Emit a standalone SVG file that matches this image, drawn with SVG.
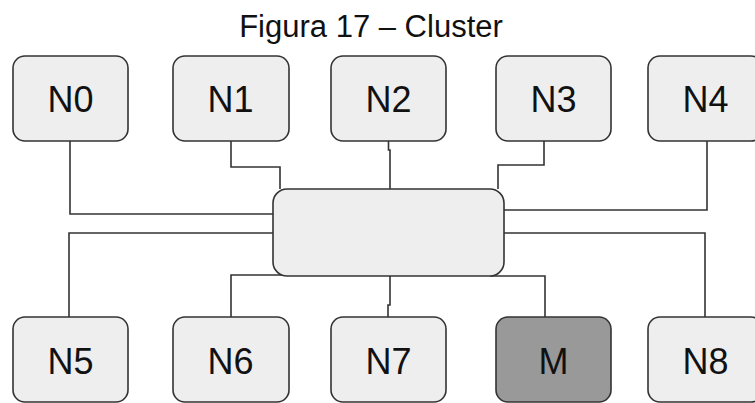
<svg xmlns="http://www.w3.org/2000/svg" width="755" height="403" viewBox="0 0 755 403">
  <style>
    .node rect { fill: #eeeeee; stroke: #333333; stroke-width: 1.6; }
    .node.master rect { fill: #999999; }
    .node text { font-family: "Liberation Sans", Arial, sans-serif; font-size: 36px; fill: #111111; text-anchor: middle; }
    .hub rect { fill: #eeeeee; stroke: #333333; stroke-width: 1.6; }
    .links path { fill: none; stroke: #333333; stroke-width: 1.6; }
    .title { font-family: "Liberation Sans", Arial, sans-serif; font-size: 31px; fill: #111111; text-anchor: middle; }
  </style>
  <rect width="755" height="403" fill="#ffffff"/>

  <text class="title" x="371" y="37">Figura 17 – Cluster</text>

  <!-- wiring between the nodes and the central switch -->
  <g id="connectors" class="links">
    <path d="M70,141 V214 H273"/>
    <path d="M231,141 V167 H280 V189"/>
    <path d="M388.5,141 V150 H390 V189"/>
    <path d="M544,141 V165 H498 V189"/>
    <path d="M707,141 V210 H504"/>
    <path d="M273,233 H69 V317"/>
    <path d="M285,275 H231 V317"/>
    <path d="M390,276 V305 H388 V317"/>
    <path d="M490,276 H545 V317"/>
    <path d="M504,233 H705 V317"/>
  </g>

  <g id="hub" class="hub">
    <rect x="273" y="189" width="231" height="87" rx="14" ry="14"/>
  </g>

  <g id="n0" class="node"><rect x="13" y="56" width="115" height="85" rx="12"/><text x="70.5" y="112">N0</text></g>
  <g id="n1" class="node"><rect x="173" y="56" width="116" height="85" rx="12"/><text x="230.5" y="112">N1</text></g>
  <g id="n2" class="node"><rect x="331" y="56" width="115" height="85" rx="12"/><text x="388.5" y="112">N2</text></g>
  <g id="n3" class="node"><rect x="496" y="56" width="115" height="85" rx="12"/><text x="553.5" y="112">N3</text></g>
  <g id="n4" class="node"><rect x="648" y="56" width="115" height="85" rx="12"/><text x="705.5" y="112">N4</text></g>

  <g id="n5" class="node"><rect x="13" y="317" width="115" height="85" rx="12"/><text x="70.5" y="374">N5</text></g>
  <g id="n6" class="node"><rect x="173" y="317" width="116" height="85" rx="12"/><text x="230.5" y="374">N6</text></g>
  <g id="n7" class="node"><rect x="331" y="317" width="115" height="85" rx="12"/><text x="388.5" y="374">N7</text></g>
  <g id="m" class="node master"><rect x="496" y="317" width="115" height="85" rx="12"/><text x="553.5" y="374">M</text></g>
  <g id="n8" class="node"><rect x="648" y="317" width="115" height="85" rx="12"/><text x="705.5" y="374">N8</text></g>
</svg>
